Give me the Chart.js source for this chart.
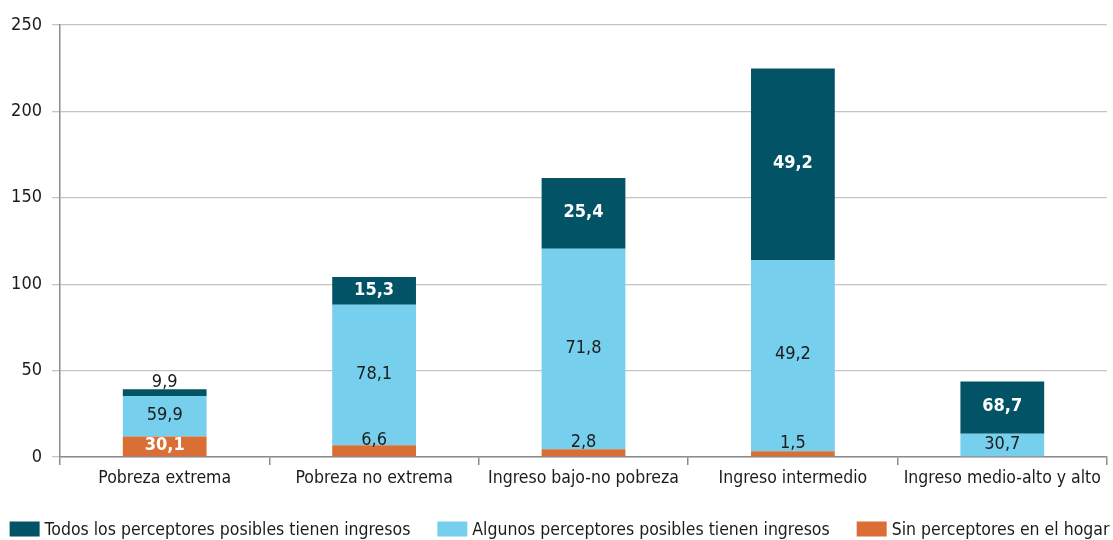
<!DOCTYPE html>
<html>
<head>
<meta charset="utf-8">
<script src="https://cdn.jsdelivr.net/npm/chart.js@4.4.1/dist/chart.umd.min.js"></script>
<style>
    html, body { margin: 0; padding: 0; background: #ffffff; }
    #wrap { position: relative; width: 1113px; height: 540px; }
</style>
</head>
<body>
<div id="wrap"><canvas id="chart"></canvas></div>
<script>
// Household income groups
const categories = [
    'Pobreza extrema',
    'Pobreza no extrema',
    'Ingreso bajo-no pobreza',
    'Ingreso intermedio',
    'Ingreso medio-alto y alto'
];

// Height of each stacked bar
const barTotals = [ 39.3, 104.1, 161.5, 225.0, 43.9 ];

// Share of each group (%) by earners situation
const shareNone = [ 30.1, 6.6, 2.8, 1.5, 0 ];
const shareSome = [ 59.9, 78.1, 71.8, 49.2, 30.7 ];
const shareAll = [ 9.9, 15.3, 25.4, 49.2, 68.7 ];

const yTicks = [ 0, 50, 100, 150, 200, 250 ];

const FONT = "'DejaVu Sans Condensed', 'Liberation Sans Narrow', sans-serif";
const TEXT_COLOR = '#1c1c1c';

// segment value = bar total scaled by its share
function segment ( shares )
{
    return shares.map( ( s, i ) => barTotals[ i ] * s / 100 );
}

function formatShare ( value )
{
    return value.toFixed( 1 ).replace( '.', ',' );
}

// Draws the share inside every stacked segment
const segmentLabels = {
    id: 'segmentLabels',
    afterDatasetsDraw ( chart )
    {
        const ctx = chart.ctx;
        ctx.save();
        ctx.textAlign = 'center';
        ctx.textBaseline = 'middle';

        chart.data.datasets.forEach( ( dataset, i ) =>
        {
            const meta = chart.getDatasetMeta( i );
            if ( meta.hidden ) return;

            meta.data.forEach( ( bar, j ) =>
            {
                const share = dataset.shares[ j ];
                if ( !share ) return;

                const h = Math.abs( bar.base - bar.y );
                const roomy = h > 16;
                const strong = roomy && dataset.strongLabels;
                const y = ( bar.y + bar.base ) / 2 - ( roomy ? 1 : 10 );

                ctx.font = ( strong ? 'bold ' : '' ) + '18px ' + FONT;
                ctx.fillStyle = strong ? '#ffffff' : TEXT_COLOR;
                ctx.fillText( formatShare( share ), bar.x, y );
            } );
        } );

        ctx.restore();
    }
};

// Single-row legend under the axis, top series first
const bottomLegend = {
    id: 'bottomLegend',
    afterDraw ( chart )
    {
        const ctx = chart.ctx;
        const items = chart.data.datasets.slice().reverse();
        const boxW = 30, boxH = 15, gap = 5, spacing = 27;
        const y = 529;

        ctx.save();
        ctx.font = '17.5px ' + FONT;
        ctx.textBaseline = 'middle';
        ctx.textAlign = 'left';

        const widths = items.map( d => boxW + gap + ctx.measureText( d.label ).width );
        const total = widths.reduce( ( a, b ) => a + b, 0 ) + spacing * ( items.length - 1 );
        let x = ( chart.width - total ) / 2 + 3;

        items.forEach( ( d, i ) =>
        {
            ctx.fillStyle = d.backgroundColor;
            ctx.fillRect( x, y - boxH / 2, boxW, boxH );
            ctx.fillStyle = TEXT_COLOR;
            ctx.fillText( d.label, x + boxW + gap, y + 1 );
            x += widths[ i ] + spacing;
        } );

        ctx.restore();
    }
};

const ctx = document.getElementById( 'chart' ).getContext( '2d' );

new Chart( ctx, {
    type: 'bar',
    data: {
        labels: categories,
        datasets: [
            {
                label: 'Sin perceptores en el hogar',
                data: segment( shareNone ),
                shares: shareNone,
                strongLabels: true,
                backgroundColor: '#d96f35'
            },
            {
                label: 'Algunos perceptores posibles tienen ingresos',
                data: segment( shareSome ),
                shares: shareSome,
                strongLabels: false,
                backgroundColor: '#76cfec'
            },
            {
                label: 'Todos los perceptores posibles tienen ingresos',
                data: segment( shareAll ),
                shares: shareAll,
                strongLabels: true,
                backgroundColor: '#035366'
            }
        ]
    },
    options: {
        responsive: true,
        maintainAspectRatio: false,
        animation: false,
        layout: {
            padding: { top: 25, right: 6, left: 0, bottom: 0 }
        },
        datasets: {
            bar: {
                categoryPercentage: 1,
                barPercentage: 0.4,
                borderWidth: 0
            }
        },
        plugins: {
            legend: { display: false },
            tooltip: { enabled: false }
        },
        scales: {
            x: {
                stacked: true,
                afterFit ( scale )
                {
                    scale.height = 83;
                },
                grid: {
                    display: true,
                    drawOnChartArea: false,
                    tickLength: 8,
                    tickColor: '#8c8c8c',
                    lineWidth: 1.5
                },
                border: { color: '#8c8c8c', width: 1.5 },
                ticks: {
                    color: TEXT_COLOR,
                    padding: 3,
                    autoSkip: false,
                    maxRotation: 0,
                    font: { family: FONT, size: 17.5 }
                }
            },
            y: {
                stacked: true,
                min: 0,
                max: 250,
                afterFit ( scale )
                {
                    scale.width = 60;
                },
                afterBuildTicks ( scale )
                {
                    scale.ticks = yTicks.map( v => ( { value: v } ) );
                },
                grid: {
                    color: '#c4c4c4',
                    lineWidth: 1.3,
                    tickLength: 8,
                    tickColor: '#c4c4c4'
                },
                border: { color: '#8c8c8c', width: 1.5 },
                ticks: {
                    color: TEXT_COLOR,
                    padding: 10,
                    font: { family: FONT, size: 18 }
                }
            }
        }
    },
    plugins: [ segmentLabels, bottomLegend ]
} );
</script>
</body>
</html>
